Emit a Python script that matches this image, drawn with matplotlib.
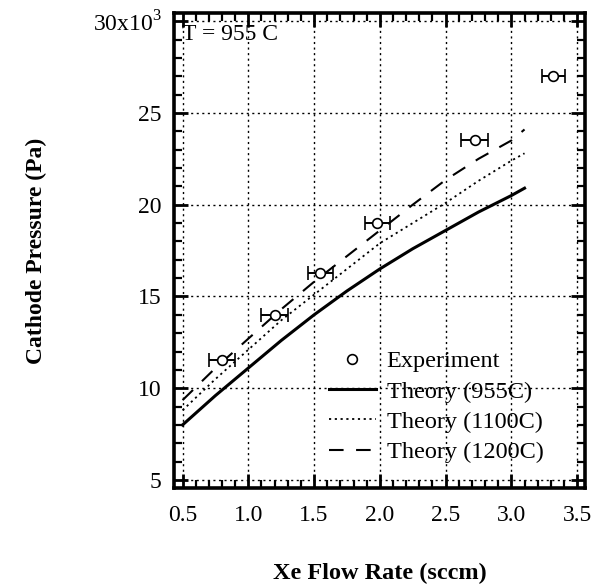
import matplotlib
matplotlib.use("Agg")
import matplotlib.pyplot as plt
from matplotlib.lines import Line2D
from matplotlib.ticker import MultipleLocator, FixedLocator

plt.rcParams["font.family"] = ["Liberation Serif", "DejaVu Serif"]
plt.rcParams["mathtext.fontset"] = "custom"
plt.rcParams["mathtext.rm"] = "Liberation Serif"

# measured cathode pressure (x10^3 Pa) vs xenon flow
exp_flow = [0.80, 1.20, 1.545, 1.98, 2.72, 3.32]
exp_pressure = [11.55, 14.0, 16.3, 19.0, 23.5, 27.0]
exp_flow_err = [0.10, 0.10, 0.095, 0.095, 0.10, 0.09]

# model curves at three insert temperatures
theory_flow = [0.5, 0.75, 1.0, 1.25, 1.5, 1.75, 2.0, 2.25, 2.5, 2.75, 3.0, 3.1]
theory_955 = [8.0, 9.6, 11.1, 12.6, 14.0, 15.3, 16.5, 17.6, 18.6, 19.6, 20.5, 20.9]
theory_1100 = [8.8, 10.5, 12.1, 13.7, 15.1, 16.5, 17.9, 19.0, 20.1, 21.3, 22.4, 22.8]
theory_1200 = [9.35, 11.1, 12.7, 14.3, 15.8, 17.2, 18.6, 20.0, 21.35, 22.5, 23.5, 24.1]

x_ticks = [0.5, 1.0, 1.5, 2.0, 2.5, 3.0, 3.5]
y_ticks = [5, 10, 15, 20, 25, 30]
y_tick_labels = ["5", "10", "15", "20", "25", "30x10$^3$"]

fig = plt.figure(figsize=(6.03, 5.88), dpi=100)
ax = fig.add_axes([0.2886, 0.170, 0.6816, 0.808])

l955, = ax.plot(theory_flow, theory_955, color="black", lw=2.2, ls="-")
l1100, = ax.plot(theory_flow, theory_1100, color="black", lw=1.3, ls=(0, (1.2, 2.0)))
l1200, = ax.plot(theory_flow, theory_1200, color="black", lw=1.5, ls=(0, (7, 6)))
ax.errorbar(exp_flow, exp_pressure, xerr=exp_flow_err, fmt="o", ms=7, mfc="white",
            mec="black", mew=1.2, ecolor="black", elinewidth=1.4, capsize=5, capthick=1.4,
            zorder=5)

ax.set_xlim(0.435, 3.56)
ax.set_ylim(4.56, 30.45)
ax.xaxis.set_major_locator(FixedLocator(x_ticks))
ax.yaxis.set_major_locator(FixedLocator(y_ticks))
ax.set_xticklabels([f"{v:.1f}" for v in x_ticks])
ax.set_yticklabels(y_tick_labels)
ax.xaxis.set_minor_locator(MultipleLocator(0.1))
ax.yaxis.set_minor_locator(MultipleLocator(1))

ax.tick_params(which="both", direction="in", top=True, right=True, colors="black")
ax.tick_params(which="major", length=10, width=2.0, labelsize=17)
ax.tick_params(axis="x", which="major", pad=12)
ax.tick_params(axis="y", which="major", pad=9)
ax.tick_params(which="minor", length=6, width=1.6)
for s in ax.spines.values():
    s.set_linewidth(2.6)

ax.grid(True, which="major", color="black", ls=(0, (1.5, 2.5)), lw=1.0)

ax.text(0.02, 0.955, "T = 955 C", transform=ax.transAxes, fontsize=17,
        ha="left", va="center")

ax.set_xlabel("Xe Flow Rate (sccm)", fontsize=17.5, fontweight="bold", labelpad=27)
ax.set_ylabel("Cathode Pressure (Pa)", fontsize=17, fontweight="bold", labelpad=33)

exp_handle = Line2D([], [], ls="none", marker="o", ms=7, mfc="white", mec="black", mew=1.2)
ax.legend([exp_handle, l955, l1100, l1200],
          ["Experiment", "Theory (955C)", "Theory (1100C)", "Theory (1200C)"],
          loc="upper left", bbox_to_anchor=(0.378, 0.29), frameon=False,
          fontsize=17.5, borderpad=0, borderaxespad=0, handlelength=1.9,
          handletextpad=0.45, labelspacing=0.34)

fig.savefig("out.png", dpi=100)
